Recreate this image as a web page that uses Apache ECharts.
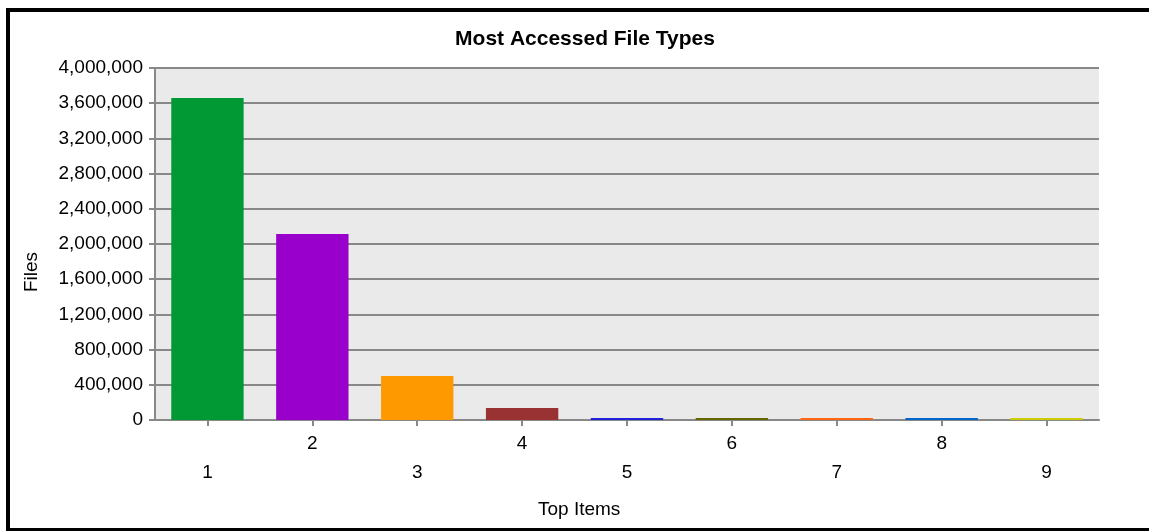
<!DOCTYPE html>
<html>
<head>
<meta charset="utf-8">
<script src="https://cdn.jsdelivr.net/npm/echarts@6/dist/echarts.min.js"></script>
<style>
html,body{margin:0;padding:0;background:#fff;}
#c{width:1149px;height:531px;}
</style>
</head>
<body>
<div id="c"></div>
<script>
var categories = ['1','2','3','4','5','6','7','8','9'];
var fileCounts = [3660000, 2115000, 500000, 136000, 9000, 8000, 7000, 6000, 5000];
var barColors = ['#009933','#9900CC','#FF9900','#993333','#2222DD','#666600','#FF6611','#0066CC','#CCCC00'];
var yTicks = [0, 400000, 800000, 1200000, 1600000, 2000000, 2400000, 2800000, 3200000, 3600000, 4000000];

var FONT = '"Liberation Sans", Arial, sans-serif';
var chart = echarts.init(document.getElementById('c'), null, {renderer:'canvas'});

function fmt(v){ return String(v).replace(/\B(?=(\d{3})+(?!\d))/g, ','); }

chart.setOption({
  animation: false,
  backgroundColor: '#ffffff',
  title: {
    text: 'Most Accessed File Types',
    left: 580, top: 24, textAlign: 'center',
    textStyle: {fontFamily: FONT, fontWeight: 'bold', fontSize: 21, color: '#000'}
  },
  grid: {
    left: 155, right: 50, top: 68, bottom: 111,
    show: true, backgroundColor: '#EAEAEA', borderWidth: 0
  },
  xAxis: {
    type: 'category',
    data: categories,
    axisLine: {show: true, lineStyle: {color: '#888888', width: 2}},
    axisTick: {show: true, alignWithLabel: true, length: 6, lineStyle: {color: '#888888', width: 2}},
    axisLabel: {
      interval: 0, margin: 9,
      fontFamily: FONT, fontSize: 19, color: '#000',
      lineHeight: 29,
      formatter: function(v, i){ return (i % 2 === 0) ? ('\n' + v) : v; }
    },
    splitLine: {show: false}
  },
  yAxis: {
    type: 'value',
    min: yTicks[0], max: yTicks[yTicks.length-1], interval: yTicks[1]-yTicks[0],
    axisLine: {show: true, lineStyle: {color: '#888888', width: 2}},
    axisTick: {show: true, length: 6, lineStyle: {color: '#888888', width: 2}},
    axisLabel: {
      margin: 12,
      fontFamily: FONT, fontSize: 19, color: '#000',
      formatter: function(v){ return fmt(v); }
    },
    splitLine: {show: true, lineStyle: {color: '#888888', width: 2}}
  },
  series: [{
    type: 'bar',
    data: fileCounts.map(function(v, i){ return {value: v, itemStyle: {color: barColors[i]}}; }),
    barWidth: '69%',
    barMinHeight: 2,
    z: 5
  }],
  graphic: [
    {type: 'text', left: 538, top: 500, style: {text: 'Top Items', font: '19px ' + FONT, fill: '#000'}},
    {type: 'text', x: 22, y: 292, rotation: Math.PI/2, style: {text: 'Files', font: '19px ' + FONT, fill: '#000'}},
    {type: 'line', shape: {x1: 8, y1: 8, x2: 8, y2: 531}, style: {stroke: '#000', lineWidth: 4}, z: 100},
    {type: 'line', shape: {x1: 6, y1: 10, x2: 1149, y2: 10}, style: {stroke: '#000', lineWidth: 4}, z: 100},
    {type: 'line', shape: {x1: 6, y1: 529.5, x2: 1149, y2: 529.5}, style: {stroke: '#000', lineWidth: 3}, z: 100}
  ]
});
</script>
</body>
</html>
